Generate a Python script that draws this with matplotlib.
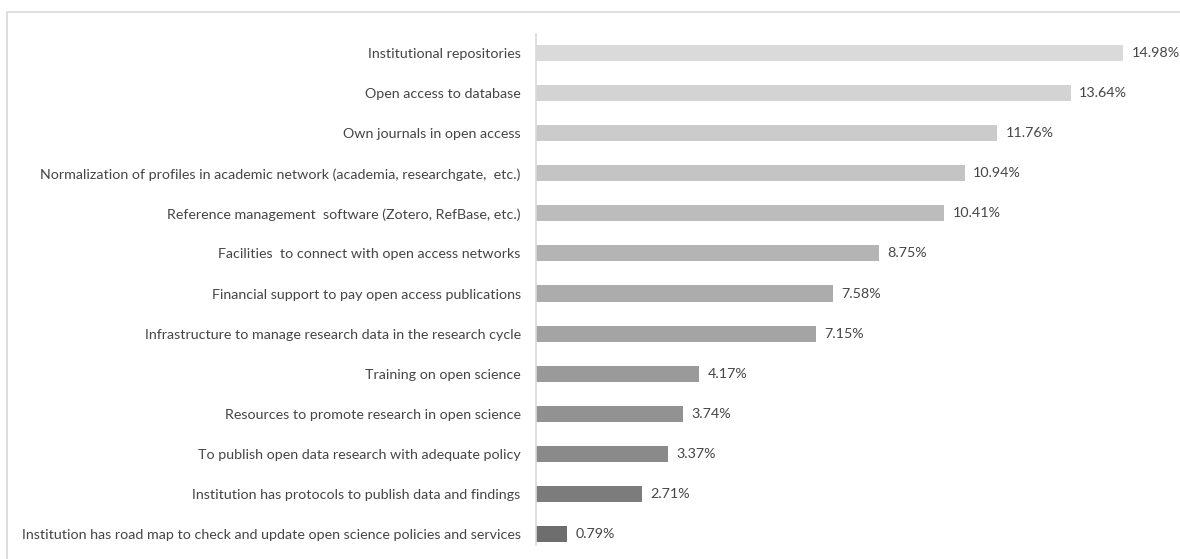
import matplotlib
matplotlib.use("Agg")
import matplotlib.pyplot as plt
from matplotlib.patches import Rectangle

categories = [
    "Institutional repositories",
    "Open access to database",
    "Own journals in open access",
    "Normalization of profiles in academic network (academia, researchgate,  etc.)",
    "Reference management  software (Zotero, RefBase, etc.)",
    "Facilities  to connect with open access networks",
    "Financial support to pay open access publications",
    "Infrastructure to manage research data in the research cycle",
    "Training on open science",
    "Resources to promote research in open science",
    "To publish open data research with adequate policy",
    "Institution has protocols to publish data and findings",
    "Institution has road map to check and update open science policies and services",
]
values = [14.98, 13.64, 11.76, 10.94, 10.41, 8.75, 7.58, 7.15, 4.17, 3.74, 3.37, 2.71, 0.79]
bar_colors = ["#dadada", "#d3d3d3", "#cbcbcb", "#c4c4c4", "#bcbcbc", "#b4b4b4",
              "#acacac", "#a4a4a4", "#9a9a9a", "#929292", "#8a8a8a", "#7c7c7c", "#6e6e6e"]

plt.rcParams["font.family"] = ["Lato", "DejaVu Sans"]
text_color = "#454545"

W, H = 1180, 559
fig = plt.figure(figsize=(W / 100, H / 100), dpi=100)

# light outer frame
fig.patches.append(Rectangle((7 / W, -0.05), 1.1, 1 - 12 / H + 0.05,
                             transform=fig.transFigure, fill=False,
                             edgecolor="#d9d9d9", linewidth=1.2, zorder=0))

ax_left, ax_top, ax_bottom = 536, 33, 554
ax = fig.add_axes([ax_left / W, 1 - ax_bottom / H, (W - ax_left) / W, (ax_bottom - ax_top) / H])
ax.set_facecolor("none")

y = list(range(len(values)))
ax.barh(y, values, height=0.4, color=bar_colors, zorder=2)
ax.set_ylim(12.5, -0.5)
ax.set_xlim(0, (W - ax_left) / 39.2)

for yi, v in zip(y, values):
    ax.annotate(f"{v:.2f}%", (v, yi), xytext=(6, 0), textcoords="offset points",
                va="center", ha="left", fontsize=10.3, color=text_color, annotation_clip=False)

ax.set_yticks(y)
ax.set_yticklabels(categories, fontsize=10.3, color=text_color)
ax.tick_params(axis="y", length=0, pad=11)
ax.set_xticks([])
for s in ["top", "right", "bottom"]:
    ax.spines[s].set_visible(False)
ax.spines["left"].set_color("#d9d9d9")
ax.spines["left"].set_linewidth(1.2)
ax.spines["left"].set_bounds(12.27, -0.475)

fig.savefig("out.png", dpi=100)
